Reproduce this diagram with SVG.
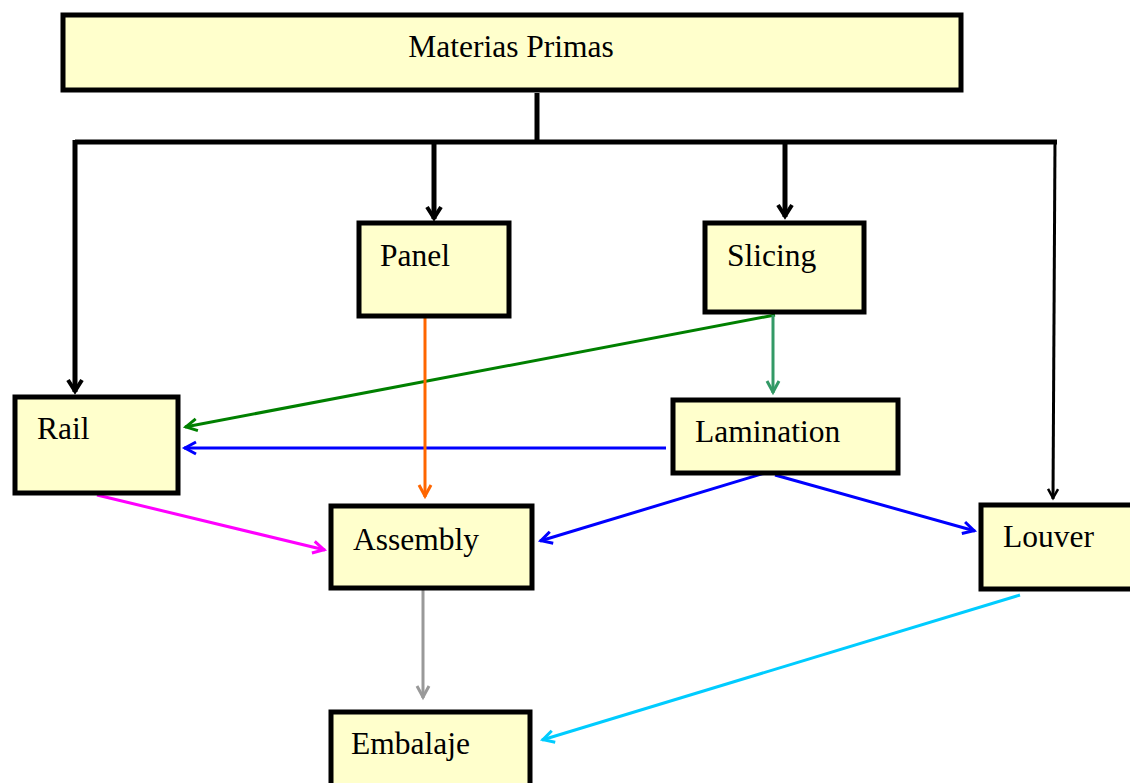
<svg xmlns="http://www.w3.org/2000/svg" width="1130" height="783" viewBox="0 0 1130 783">
<style>
.box{fill:#FFFFCC;stroke:#000;stroke-width:5}
.t{font-family:"Liberation Serif","Times New Roman",serif;font-size:31.5px;fill:#000}
.c{fill:none;stroke-width:3}
</style>
<defs>
<marker id="mk" markerUnits="userSpaceOnUse" viewBox="-14 -10 16 20" refX="0" refY="0" markerWidth="16" markerHeight="20" orient="auto" overflow="visible"><path d="M-12,-7 L-1,0 L-12,7" fill="none" stroke="#000" stroke-width="4"/></marker>
<marker id="mk2" markerUnits="userSpaceOnUse" viewBox="-14 -10 16 20" refX="0" refY="0" markerWidth="16" markerHeight="20" orient="auto" overflow="visible"><path d="M-10,-5 L-1,0 L-10,5" fill="none" stroke="#000" stroke-width="2.5"/></marker>
<marker id="mg" markerUnits="userSpaceOnUse" viewBox="-14 -10 16 20" refX="0" refY="0" markerWidth="16" markerHeight="20" orient="auto" overflow="visible"><path d="M-12,-6 L-1,0 L-12,6" fill="none" stroke="#008000" stroke-width="3"/></marker>
<marker id="msg" markerUnits="userSpaceOnUse" viewBox="-14 -10 16 20" refX="0" refY="0" markerWidth="16" markerHeight="20" orient="auto" overflow="visible"><path d="M-12,-6 L-1,0 L-12,6" fill="none" stroke="#339966" stroke-width="3"/></marker>
<marker id="mb" markerUnits="userSpaceOnUse" viewBox="-14 -10 16 20" refX="0" refY="0" markerWidth="16" markerHeight="20" orient="auto" overflow="visible"><path d="M-12,-6 L-1,0 L-12,6" fill="none" stroke="#0000FF" stroke-width="3"/></marker>
<marker id="mo" markerUnits="userSpaceOnUse" viewBox="-14 -10 16 20" refX="0" refY="0" markerWidth="16" markerHeight="20" orient="auto" overflow="visible"><path d="M-12,-6 L-1,0 L-12,6" fill="none" stroke="#FF6600" stroke-width="3"/></marker>
<marker id="mm" markerUnits="userSpaceOnUse" viewBox="-14 -10 16 20" refX="0" refY="0" markerWidth="16" markerHeight="20" orient="auto" overflow="visible"><path d="M-12,-6 L-1,0 L-12,6" fill="none" stroke="#FF00FF" stroke-width="3"/></marker>
<marker id="mgr" markerUnits="userSpaceOnUse" viewBox="-14 -10 16 20" refX="0" refY="0" markerWidth="16" markerHeight="20" orient="auto" overflow="visible"><path d="M-12,-6 L-1,0 L-12,6" fill="none" stroke="#999999" stroke-width="3"/></marker>
<marker id="mc" markerUnits="userSpaceOnUse" viewBox="-14 -10 16 20" refX="0" refY="0" markerWidth="16" markerHeight="20" orient="auto" overflow="visible"><path d="M-12,-6 L-1,0 L-12,6" fill="none" stroke="#00CCFF" stroke-width="3"/></marker>
</defs>

<g id="connectors">
<path d="M537,93 V142" fill="none" stroke="#000" stroke-width="5"/>
<path d="M75,142 H1057" fill="none" stroke="#000" stroke-width="5"/>
<path d="M75,140 V392" fill="none" stroke="#000" stroke-width="5" marker-end="url(#mk)"/>
<path d="M434,140 V219" fill="none" stroke="#000" stroke-width="5" marker-end="url(#mk)"/>
<path d="M785,140 V217" fill="none" stroke="#000" stroke-width="5" marker-end="url(#mk)"/>
<path d="M1055,140 L1053,499" fill="none" stroke="#000" stroke-width="3" marker-end="url(#mk2)"/>
<path d="M775,315 L185,427" class="c" stroke="#008000" marker-end="url(#mg)"/>
<path d="M773,315 V393" class="c" stroke="#339966" marker-end="url(#msg)"/>
<path d="M666,448 H184" class="c" stroke="#0000FF" marker-end="url(#mb)"/>
<path d="M425,317 V497" class="c" stroke="#FF6600" marker-end="url(#mo)"/>
<path d="M97,495 L325,550" class="c" stroke="#FF00FF" marker-end="url(#mm)"/>
<path d="M765,473 L540,541" class="c" stroke="#0000FF" marker-end="url(#mb)"/>
<path d="M775,475 L975,531" class="c" stroke="#0000FF" marker-end="url(#mb)"/>
<path d="M423,590 V698" class="c" stroke="#999999" marker-end="url(#mgr)"/>
<path d="M1020,595 L542,740" class="c" stroke="#00CCFF" marker-end="url(#mc)"/>
</g>

<g id="materias"><rect class="box" x="63" y="15" width="898" height="75"/><text class="t" x="511" y="57" text-anchor="middle">Materias Primas</text></g>
<g id="panel"><rect class="box" x="359" y="223" width="150" height="93"/><text class="t" x="380" y="266">Panel</text></g>
<g id="slicing"><rect class="box" x="705" y="223" width="159" height="89"/><text class="t" x="727" y="266">Slicing</text></g>
<g id="rail"><rect class="box" x="15" y="397" width="163" height="96"/><text class="t" x="37" y="439">Rail</text></g>
<g id="lamination"><rect class="box" x="673" y="400" width="225" height="73"/><text class="t" x="695" y="442">Lamination</text></g>
<g id="assembly"><rect class="box" x="331" y="506" width="201" height="82"/><text class="t" x="353" y="550">Assembly</text></g>
<g id="louver"><rect class="box" x="981" y="505" width="160" height="84"/><text class="t" x="1003" y="547">Louver</text></g>
<g id="embalaje"><rect class="box" x="331" y="712" width="199" height="90"/><text class="t" x="351" y="754">Embalaje</text></g>
</svg>
